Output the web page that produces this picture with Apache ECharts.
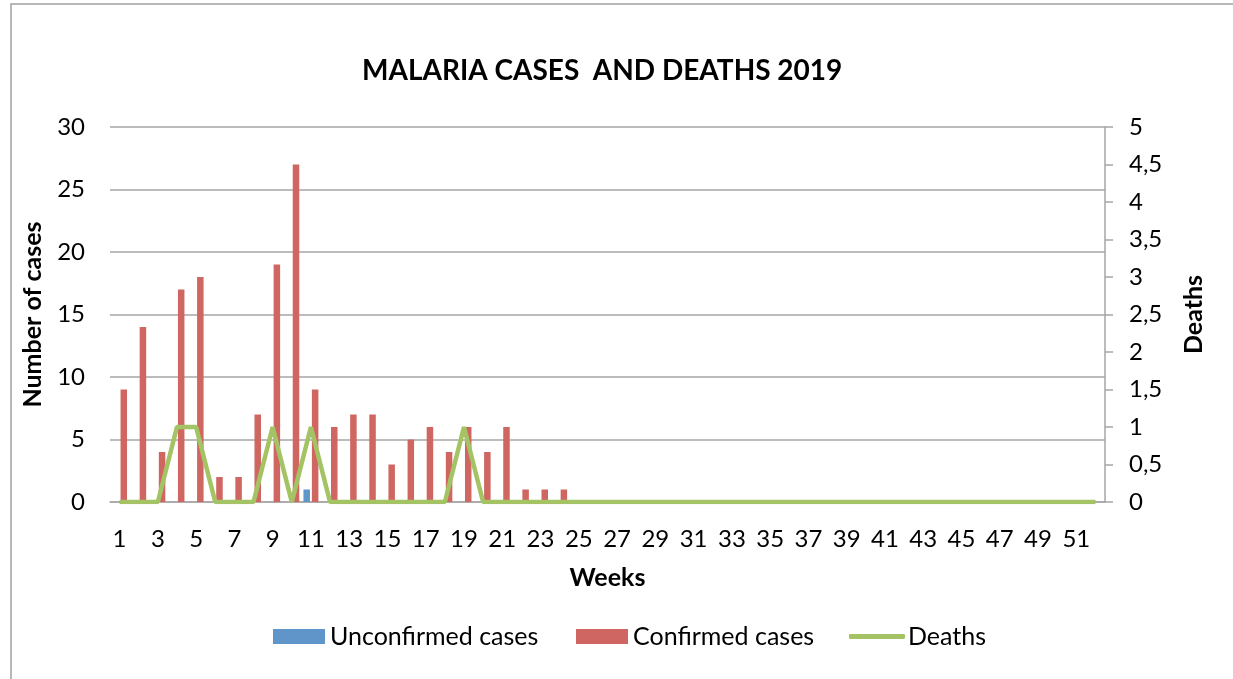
<!DOCTYPE html>
<html>
<head>
<meta charset="utf-8">
<script src="https://cdn.jsdelivr.net/npm/echarts@6/dist/echarts.min.js"></script>
<style>
html,body{margin:0;padding:0;background:#fff;}
#chart{width:1233px;height:679px;}
</style>
</head>
<body>
<div id="chart"></div>
<script>
var weeks = [];
for (var w = 1; w <= 52; w++) weeks.push(String(w));

var unconfirmedCases = [0,0,0,0,0,0,0,0,0,0,1,0,0,0,0,0,0,0,0,0,0,0,0,0,0,0,0,0,0,0,0,0,0,0,0,0,0,0,0,0,0,0,0,0,0,0,0,0,0,0,0,0];
var confirmedCases = [9,14,4,17,18,2,2,7,19,27,9,6,7,7,3,5,6,4,6,4,6,1,1,1,0,0,0,0,0,0,0,0,0,0,0,0,0,0,0,0,0,0,0,0,0,0,0,0,0,0,0,0];
var deaths = [0,0,0,1,1,0,0,0,1,0,1,0,0,0,0,0,0,0,1,0,0,0,0,0,0,0,0,0,0,0,0,0,0,0,0,0,0,0,0,0,0,0,0,0,0,0,0,0,0,0,0,0];

var FONT = 'Lato';
var chart = echarts.init(document.getElementById('chart'), null, {renderer: 'canvas'});
chart.setOption({
  animation: false,
  backgroundColor: '#fff',
  title: {
    text: 'MALARIA CASES  AND DEATHS 2019',
    left: 357, top: 52,
    textStyle: {fontFamily: FONT, fontSize: 28, fontWeight: 'bold', color: '#000'}
  },
  graphic: [{
    type: 'rect', shape: {x: 11, y: 4, width: 1240, height: 700},
    style: {fill: 'none', stroke: '#a0a0a0', lineWidth: 1.5}, silent: true, z: -1
  }],
  legend: [
    {data: ['Unconfirmed cases'], left: 268, top: 619, itemWidth: 52, itemHeight: 15, itemGap: 0,
     textStyle: {fontFamily: FONT, fontSize: 25, color: '#000'}, icon: 'rect'},
    {data: ['Confirmed cases'], left: 571, top: 619, itemWidth: 52, itemHeight: 15, itemGap: 0,
     textStyle: {fontFamily: FONT, fontSize: 25, color: '#000'}, icon: 'rect'},
    {data: ['Deaths'], left: 844, top: 619, itemWidth: 56, itemHeight: 5, itemGap: 0,
     textStyle: {fontFamily: FONT, fontSize: 25, color: '#000', padding: [0,0,0,-2]}, icon: 'roundRect'}
  ],
  grid: {left: 110, right: 128, top: 127, bottom: 177, containLabel: false},
  xAxis: {
    type: 'category', data: weeks,
    name: 'Weeks', nameLocation: 'middle', nameGap: 63,
    nameTextStyle: {fontFamily: FONT, fontSize: 25, fontWeight: 'bold', color: '#000'},
    axisLine: {lineStyle: {color: '#a6a6a6', width: 1.5}},
    axisTick: {show: false},
    axisLabel: {interval: 1, margin: 25, fontFamily: FONT, fontSize: 24, color: '#000'}
  },
  yAxis: [{
    type: 'value', min: 0, max: 30, interval: 5,
    name: 'Number of cases', nameLocation: 'middle', nameGap: 65, nameRotate: 90,
    nameTextStyle: {fontFamily: FONT, fontSize: 25, fontWeight: 'bold', color: '#000'},
    axisLine: {show: false}, axisTick: {show: false},
    splitLine: {lineStyle: {color: '#a6a6a6', width: 1.5}},
    axisLabel: {margin: 25, fontFamily: FONT, fontSize: 24, color: '#000'}
  }, {
    type: 'value', min: 0, max: 5, interval: 0.5, position: 'right',
    name: 'Deaths', nameLocation: 'middle', nameGap: 76, nameRotate: 90,
    nameTextStyle: {fontFamily: FONT, fontSize: 25, fontWeight: 'bold', color: '#000'},
    axisLine: {show: true, lineStyle: {color: '#a6a6a6', width: 1.5}},
    axisTick: {show: true, length: 8, lineStyle: {color: '#a6a6a6', width: 1.5}},
    splitLine: {show: false},
    axisLabel: {margin: 24, fontFamily: FONT, fontSize: 24, color: '#000',
      formatter: function (v) { return String(v).replace('.', ','); }}
  }],
  series: [{
    name: 'Unconfirmed cases', type: 'bar', data: unconfirmedCases,
    barWidth: 6.5, barGap: '30%', itemStyle: {color: '#5f95c9'}
  }, {
    name: 'Confirmed cases', type: 'bar', data: confirmedCases,
    barWidth: 6.5, barGap: '30%', itemStyle: {color: '#cf6661'}
  }, {
    name: 'Deaths', type: 'line', yAxisIndex: 1, data: deaths,
    symbol: 'none', lineStyle: {color: '#a4c364', width: 4.5}, itemStyle: {color: '#a4c364'}
  }]
});
</script>
</body>
</html>
